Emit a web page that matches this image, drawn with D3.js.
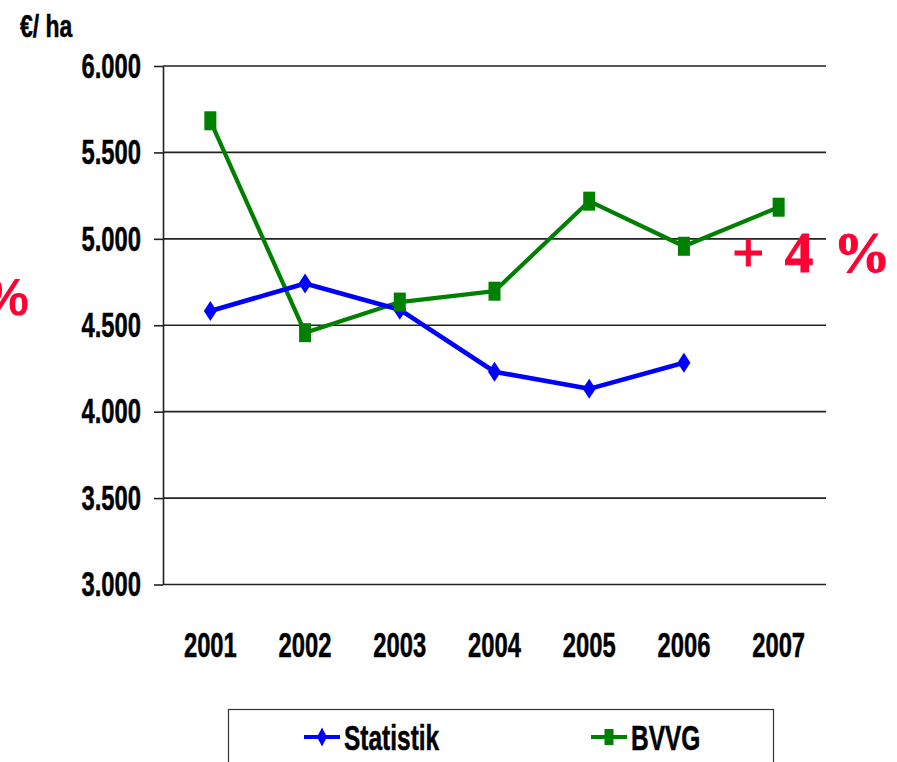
<!DOCTYPE html>
<html>
<head>
<meta charset="utf-8">
<script src="https://cdn.jsdelivr.net/npm/d3@7"></script>
<style>
  html, body { margin: 0; padding: 0; background: #fff; overflow: hidden; }
  svg { font-family: "Liberation Sans", Arial, sans-serif; font-weight: bold; }
</style>
</head>
<body>
<script>
// ** Data
const years = ["2001", "2002", "2003", "2004", "2005", "2006", "2007"];
const statistik = [4582, 4742, 4590, 4231, 4132, 4283];
const bvvg = [5683, 4457, 4634, 4697, 5218, 4957, 5183];
const yTicks = [3000, 3500, 4000, 4500, 5000, 5500, 6000];
const seriesNames = ["Statistik", "BVVG"];
const unitLabel = "€/ ha";
const noteRight = "+ 4 %";
const noteLeft = "%";

const onReady = () => {
  const width = 897;
  const height = 762;
  const plot = { left: 163, right: 826, top: 66, bottom: 584.5 };
  const squeeze = 0.68; // condensed look of the labels
  const blue = "#0000ff";
  const green = "#008000";
  const red = "#ff0033";

  const svg = d3.select("body")
    .append("svg")
    .attr("width", width)
    .attr("height", height);

  const x = d3.scaleBand().domain(years).range([plot.left, plot.right]);
  const cx = d => x(d) + x.bandwidth() / 2;
  const y = d3.scaleLinear().domain([3000, 6000]).range([plot.bottom, plot.top]);

  const de = d3.formatLocale({ decimal: ",", thousands: ".", grouping: [3], currency: ["", "€"] });
  const fmt = de.format(",d");

  // gridlines
  svg.append("g")
    .selectAll("line")
    .data(yTicks)
    .join("line")
    .attr("x1", plot.left)
    .attr("x2", plot.right)
    .attr("y1", d => y(d))
    .attr("y2", d => y(d))
    .attr("stroke", "#222")
    .attr("stroke-width", 1.6);

  // y axis
  const yAxis = svg.append("g")
    .attr("transform", `translate(${plot.left},0)`)
    .call(d3.axisLeft(y).tickValues(yTicks).tickSize(9).tickSizeOuter(0).tickPadding(13).tickFormat(fmt));
  yAxis.attr("font-family", null).attr("font-size", null);
  yAxis.select(".domain").attr("stroke", "#222").attr("stroke-width", 1.6);
  yAxis.selectAll(".tick line").attr("stroke", "#222").attr("stroke-width", 1.6);
  yAxis.selectAll(".tick text")
    .attr("x", 0)
    .attr("transform", `translate(-22,0) scale(${squeeze},1)`)
    .attr("font-size", 35)
    .attr("fill", "#000")
    .attr("stroke", "#000")
    .attr("stroke-width", 0.5);

  // x axis
  const xAxis = svg.append("g")
    .attr("transform", `translate(0,${plot.bottom})`)
    .call(d3.axisBottom(x).tickSize(0).tickPadding(48));
  xAxis.attr("font-family", null).attr("font-size", null);
  xAxis.select(".domain").remove();
  xAxis.selectAll(".tick text")
    .attr("transform", `scale(${squeeze},1)`)
    .attr("font-size", 35)
    .attr("fill", "#000")
    .attr("stroke", "#000")
    .attr("stroke-width", 0.5);

  // unit label
  svg.append("text")
    .attr("transform", `translate(20,37) scale(0.74,1)`)
    .attr("font-size", 31)
    .attr("stroke", "#000")
    .attr("stroke-width", 0.5)
    .text(unitLabel);

  // series
  const line = d3.line().x(d => cx(d.year)).y(d => y(d.v));
  const statData = statistik.map((v, i) => ({ year: years[i], v }));
  const bvvgData = bvvg.map((v, i) => ({ year: years[i], v }));

  const diamond = (hw, hh) => `M0,${-hh}L${hw},0L0,${hh}L${-hw},0Z`;

  svg.append("path")
    .datum(bvvgData)
    .attr("d", line)
    .attr("fill", "none")
    .attr("stroke", green)
    .attr("stroke-width", 4.2)
    .attr("stroke-linejoin", "round");

  svg.append("path")
    .datum(statData)
    .attr("d", line)
    .attr("fill", "none")
    .attr("stroke", blue)
    .attr("stroke-width", 4.6)
    .attr("stroke-linejoin", "round");

  svg.append("g")
    .selectAll("path")
    .data(statData)
    .join("path")
    .attr("transform", d => `translate(${cx(d.year)},${y(d.v)})`)
    .attr("d", diamond(6.5, 10))
    .attr("fill", blue);

  svg.append("g")
    .selectAll("rect")
    .data(bvvgData)
    .join("rect")
    .attr("x", d => cx(d.year) - 6)
    .attr("y", d => y(d.v) - 9.5)
    .attr("width", 12)
    .attr("height", 19)
    .attr("fill", green);

  // red notes
  svg.append("text")
    .attr("x", 732)
    .attr("y", 272)
    .style("font-family", "'Liberation Serif', 'Times New Roman', serif")
    .style("font-weight", "bold")
    .style("letter-spacing", "3px")
    .attr("font-size", 57)
    .attr("fill", red)
    .attr("stroke", red)
    .attr("stroke-width", 1)
    .text(noteRight);

  svg.append("text")
    .attr("x", 29)
    .attr("y", 315)
    .attr("text-anchor", "end")
    .attr("font-size", 52)
    .attr("fill", red)
    .text(noteLeft);

  // legend
  svg.append("rect")
    .attr("x", 228.5)
    .attr("y", 709.5)
    .attr("width", 545)
    .attr("height", 80)
    .attr("fill", "#fff")
    .attr("stroke", "#333")
    .attr("stroke-width", 1.2);

  const legendItems = [
    { name: seriesNames[0], color: blue, x: 304, marker: "diamond" },
    { name: seriesNames[1], color: green, x: 591, marker: "square" }
  ];
  const item = svg.append("g")
    .selectAll("g")
    .data(legendItems)
    .join("g")
    .attr("transform", d => `translate(${d.x},737)`);
  item.append("line")
    .attr("x1", 0)
    .attr("x2", 36)
    .attr("stroke", d => d.color)
    .attr("stroke-width", 4);
  item.filter(d => d.marker === "diamond")
    .append("path")
    .attr("transform", "translate(18,0)")
    .attr("d", diamond(5, 9.5))
    .attr("fill", d => d.color);
  item.filter(d => d.marker === "square")
    .append("rect")
    .attr("x", 13.5)
    .attr("y", -8)
    .attr("width", 9)
    .attr("height", 16)
    .attr("fill", d => d.color);
  item.append("text")
    .attr("transform", `translate(40,12.5) scale(0.7,1)`)
    .attr("font-size", 35)
    .attr("stroke", "#000")
    .attr("stroke-width", 0.5)
    .text(d => d.name);
};
document.addEventListener("DOMContentLoaded", onReady);
</script>
</body>
</html>
